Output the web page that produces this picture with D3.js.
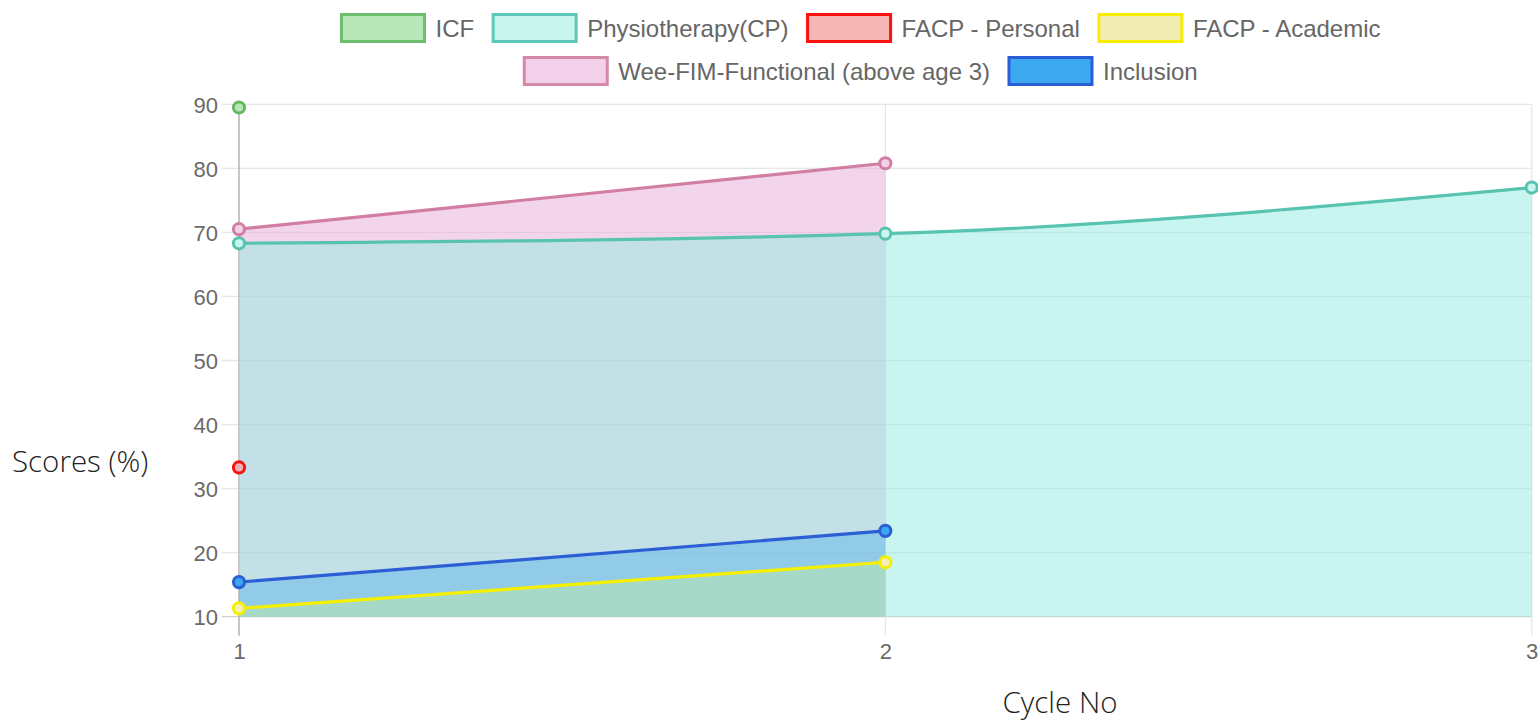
<!DOCTYPE html>
<html>
<head>
<meta charset="utf-8">
<script src="https://cdn.jsdelivr.net/npm/d3@7/dist/d3.min.js"></script>
<style>
  html, body { margin: 0; padding: 0; background: #fff; }
  svg { display: block; }
</style>
</head>
<body>
<svg id="chart" width="1538" height="723"></svg>
<script>
// ---- data ----
const categories = [1, 2, 3];
const seriesNames = ["ICF", "Physiotherapy(CP)", "FACP - Personal", "FACP - Academic", "Wee-FIM-Functional (above age 3)", "Inclusion"];
const icfValues = [89.5, null, null];
const physioValues = [68.3, 69.8, 77.0];
const facpPersonalValues = [33.3, null, null];
const facpAcademicValues = [11.3, 18.5, null];
const weeFimValues = [70.5, 80.8, null];
const inclusionValues = [15.4, 23.4, null];
const yTickValues = [10, 20, 30, 40, 50, 60, 70, 80, 90];
const yTitle = "Scores (%)";
const xTitle = "Cycle No";

// ---- styles ----
const styles = [
  { line: "#64b964", point: "#b9e6b9", legendFill: "#b9e6b9", legendStroke: "#6cbd6c", area: null },
  { line: "#58c4b0", point: "#c8f5ee", legendFill: "#c8f5ee", legendStroke: "#60c8b8", area: "rgba(145,235,225,0.5)" },
  { line: "#ff1010", point: "#e8b4b8", legendFill: "#f6b6b6", legendStroke: "#ff1010", area: null },
  { line: "#f4f000", point: "#f2efb8", legendFill: "#f0ecb2", legendStroke: "#f6ee00", area: "rgba(217,253,125,0.3)" },
  { line: "#d27ea2", point: "#f2d0e8", legendFill: "#f2d0ea", legendStroke: "#d48aa6", area: "rgba(230,170,215,0.5)" },
  { line: "#2c5ed6", point: "#3ca6f0", legendFill: "#3ca8f0", legendStroke: "#2a5ed6", area: "rgba(54,162,235,0.35)" }
];
const allValues = [icfValues, physioValues, facpPersonalValues, facpAcademicValues, weeFimValues, inclusionValues];
const series = seriesNames.map((name, i) => ({
  name, style: styles[i],
  points: categories.map((c, j) => ({ x: c, y: allValues[i][j] })).filter(p => p.y != null)
}));

const svg = d3.select("#chart");
const plot = { left: 239, right: 1531.7, top: 104.3, bottom: 616.7 };
const x = d3.scaleLinear().domain([1, 3]).range([plot.left, plot.right]);
const y = d3.scaleLinear().domain([10, 90]).range([plot.bottom, plot.top]);

const tickFont = "'Liberation Sans', Arial, Helvetica, sans-serif";

// grid: horizontal
const gGrid = svg.append("g");
gGrid.selectAll("line.h").data(yTickValues).enter().append("line")
  .attr("x1", plot.left - 17).attr("x2", plot.right)
  .attr("y1", d => y(d)).attr("y2", d => y(d))
  .attr("stroke", d => d === 10 ? "#cfcfcf" : "#e6e6e6").attr("stroke-width", 1.3);
// grid: vertical
gGrid.selectAll("line.v").data(categories).enter().append("line")
  .attr("x1", d => x(d)).attr("x2", d => x(d))
  .attr("y1", plot.top).attr("y2", plot.bottom + 19)
  .attr("stroke", d => d === 1 ? "#a8a8a8" : "#e6e6e6").attr("stroke-width", 1.3);

// y axis labels
const yAxis = d3.axisLeft(y).tickValues(yTickValues).tickSize(0).tickPadding(0);
const gy = svg.append("g").attr("transform", `translate(${plot.left - 21},0)`).call(yAxis);
gy.select(".domain").remove();
gy.selectAll("text").attr("font-family", tickFont).attr("font-size", 22).attr("fill", "#6a6a6a").attr("dy", "0.36em").attr("x", 0);

// x axis labels
const xAxis = d3.axisBottom(x).tickValues(categories).tickFormat(d3.format("d")).tickSize(0).tickPadding(0);
const gx = svg.append("g").attr("transform", `translate(0,${plot.bottom + 34})`).call(xAxis);
gx.select(".domain").remove();
gx.selectAll("text").attr("font-family", tickFont).attr("font-size", 22).attr("fill", "#6a6a6a").attr("dy", "0.36em").attr("y", 0);

// curves
const lineGen = d3.line().x(d => x(d.x)).y(d => y(d.y)).curve(d3.curveMonotoneX);
const areaGen = d3.area().x(d => x(d.x)).y0(plot.bottom).y1(d => y(d.y)).curve(d3.curveMonotoneX);

// fill order: pink, teal, blue, yellow
const fillOrder = [4, 1, 5, 3];
const gFill = svg.append("g");
fillOrder.forEach(i => {
  const s = series[i];
  if (s.points.length > 1 && s.style.area) {
    gFill.append("path").datum(s.points).attr("d", areaGen).attr("fill", s.style.area);
  }
});

// lines & points (first dataset drawn on top)
const gLines = svg.append("g");
for (let i = series.length - 1; i >= 0; i--) {
  const s = series[i];
  if (s.points.length > 1) {
    gLines.append("path").datum(s.points).attr("d", lineGen)
      .attr("fill", "none").attr("stroke", s.style.line).attr("stroke-width", 3.2);
  }
}
for (let i = series.length - 1; i >= 0; i--) {
  const s = series[i];
  gLines.selectAll(null).data(s.points).enter().append("circle")
    .attr("cx", d => x(d.x)).attr("cy", d => y(d.y)).attr("r", 5.6)
    .attr("fill", s.style.point).attr("stroke", s.style.line).attr("stroke-width", 3);
}

// legend
const legendRows = [[0, 1, 2, 3], [4, 5]];
const rowY = [28, 71];
const boxW = 83, boxH = 27, textGap = 11, itemGap = 19;
const centerX = 861;
const gLegend = svg.append("g");
legendRows.forEach((row, r) => {
  const items = row.map(i => {
    const g = gLegend.append("g");
    g.append("rect").attr("width", boxW).attr("height", boxH).attr("y", -boxH / 2)
      .attr("fill", series[i].style.legendFill).attr("stroke", series[i].style.legendStroke).attr("stroke-width", 3);
    const t = g.append("text").attr("x", boxW + textGap).attr("dy", "0.36em")
      .attr("font-family", tickFont).attr("font-size", 24).attr("fill", "#666").text(series[i].name);
    const w = boxW + textGap + t.node().getComputedTextLength();
    return { g, w };
  });
  const total = d3.sum(items, d => d.w) + itemGap * (items.length - 1);
  let cx = centerX - total / 2;
  items.forEach(it => {
    it.g.attr("transform", `translate(${cx},${rowY[r]})`);
    cx += it.w + itemGap;
  });
});

// axis titles
const titleFont = "'Open Sans', 'Noto Sans', sans-serif";
svg.append("text").attr("x", 12).attr("y", 461).attr("dy", "0.36em")
  .attr("font-family", titleFont).attr("font-size", 29.5).attr("font-weight", 300).attr("fill", "#222").text(yTitle);
svg.append("text").attr("x", 1060).attr("y", 702).attr("dy", "0.36em").attr("text-anchor", "middle")
  .attr("font-family", titleFont).attr("font-size", 29.5).attr("font-weight", 300).attr("fill", "#222").text(xTitle);
</script>
</body>
</html>
